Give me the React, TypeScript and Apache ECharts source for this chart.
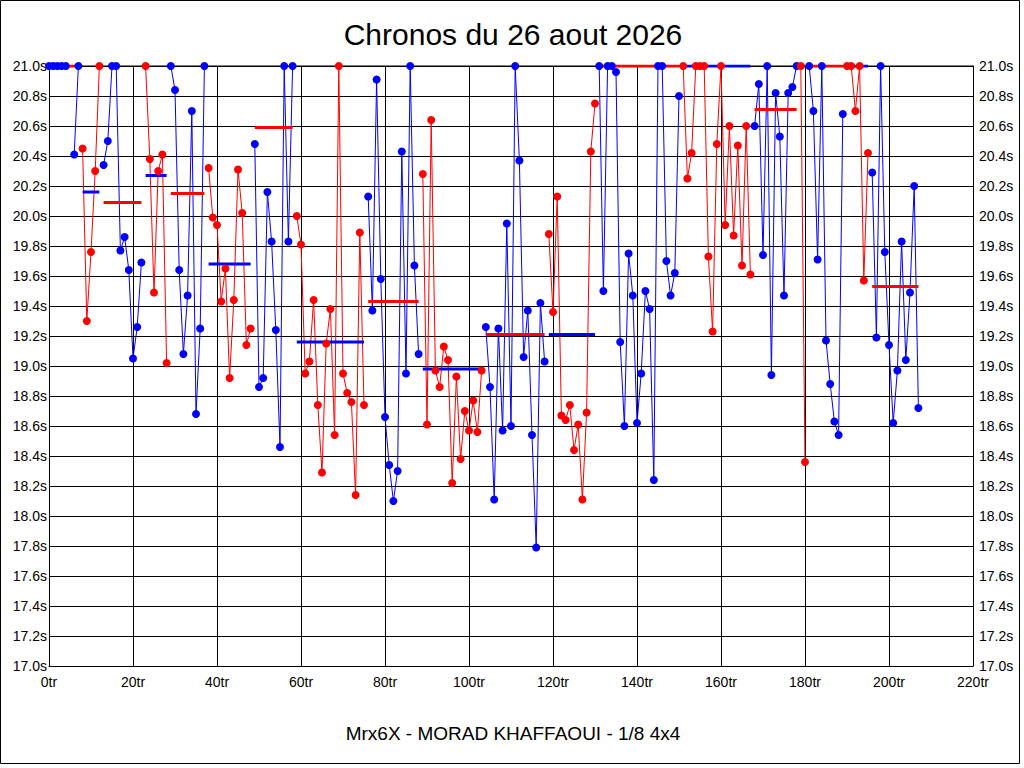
import React, { useEffect, useRef } from "react";
import * as echarts from "echarts";

// Lap times per run (seconds, values above 21.0 shown clipped at 21.0)
const segStarts = [0, 8, 13, 23, 29, 38, 49, 59, 76, 89, 104, 119, 131, 151, 168, 179, 181, 190, 196];
const seg01 = [21.0, 21.0, 21.0, 21.0, 21.0, null, 20.41, 21.0];
const seg02 = [20.45, 19.3, 19.76, 20.3, 21.0];
const seg03 = [20.34, 20.5, 21.0, 21.0, 19.77, 19.86, 19.64, 19.05, 19.26, 19.69];
const seg04 = [21.0, 20.38, 19.49, 20.3, 20.41, 19.02];
const seg05 = [21.0, 20.84, 19.64, 19.08, 19.47, 20.7, 18.68, 19.25, 21.0];
const seg06 = [20.32, 19.99, 19.94, 19.43, 19.65, 18.92, 19.44, 20.31, 20.02, 19.14, 19.25];
const seg07 = [20.48, 18.86, 18.92, 20.16, 19.83, 19.24, 18.46, 21.0, 19.83, 21.0];
const seg08 = [20.0, 19.81, 18.95, 19.03, 19.44, 18.74, 18.29, 19.15, 19.38, 18.54, 21.0, 18.95, 18.82, 18.76, 18.14, 19.89, 18.74];
const seg09 = [20.13, 19.37, 20.91, 19.58, 18.66, 18.34, 18.1, 18.3, 20.43, 18.95, 21.0, 19.67, 19.08];
const seg10 = [20.28, 18.61, 20.64, 18.97, 18.86, 19.13, 19.04, 18.22, 18.93, 18.38, 18.7, 18.57, 18.77, 18.56, 18.97];
const seg11 = [19.26, 18.86, 18.11, 19.25, 18.57, 19.95, 18.6, 21.0, 20.37, 19.06, 19.37, 18.54, 17.79, 19.42, 19.03];
const seg12 = [19.88, 19.36, 20.13, 18.67, 18.64, 18.74, 18.44, 18.61, 18.11, 18.69, 20.43, 20.75];
const seg13 = [21.0, 19.5, 21.0, 21.0, 20.96, 19.16, 18.6, 19.75, 19.47, 18.62, 18.95, 19.5, 19.38, 18.24, 21.0, 21.0, 19.7, 19.47, 19.62, 20.8];
const seg14 = [21.0, 20.25, 20.42, 21.0, 21.0, 21.0, 19.73, 19.23, 20.48, 21.0, 19.94, 20.6, 19.87, 20.47, 19.67, 20.6, 19.61];
const seg15 = [20.6, 20.88, 19.74, 21.0, 18.94, 20.82, 20.53, 19.47, 20.82, 20.86, 21.0];
const seg16 = [21.0, 18.36];
const seg17 = [21.0, 20.7, 19.71, 21.0, 19.17, 18.88, 18.63, 18.54, 20.68];
const seg18 = [21.0, 21.0, 20.7, 21.0, 19.57, 20.42];
const seg19 = [20.29, 19.19, 21.0, 19.76, 19.14, 18.62, 18.97, 19.83, 19.04, 19.49, 20.2, 18.72];
const segAverages = [21.0, 20.16, 20.09, 20.27, 20.15, 19.68, 20.59, 19.16, 19.43, 18.98, 19.21, 19.21, 21.0, 21.0, 20.71, 21.0, 21.0, 21.0, 19.53];

const segments = [seg01, seg02, seg03, seg04, seg05, seg06, seg07, seg08, seg09, seg10, seg11, seg12, seg13, seg14, seg15, seg16, seg17, seg18, seg19];

const xTicksMax = 220;
const BLUE = "#0000FF";
const RED = "#FF0000";
const FONT = "'Liberation Sans', Arial, sans-serif";

export default function App() {
  const ref = useRef<HTMLDivElement>(null);
  useEffect(() => {
    if (!ref.current) return;
    const chart = echarts.init(ref.current, null, { renderer: "svg" });
    const series: any[] = [];
    segments.forEach((vals, i) => {
      const start = segStarts[i];
      const color = i % 2 === 0 ? BLUE : RED;
      const other = i % 2 === 0 ? RED : BLUE;
      const data = vals.map((v, k) => [start + k, v === null ? null : v]);
      series.push({
        type: "line",
        data,
        showSymbol: false,
        connectNulls: false,
        lineStyle: { color, width: 1, opacity: 1 },
        itemStyle: { color },
        z: 2,
        silent: true,
      });
      series.push({
        type: "line",
        data: [
          [start, segAverages[i]],
          [start + vals.length - 1, segAverages[i]],
        ],
        showSymbol: false,
        lineStyle: { color: other, width: 3, opacity: 1 },
        z: 3,
        silent: true,
      });
      series.push({
        type: "scatter",
        data: data.filter((d) => d[1] !== null),
        symbol: "circle",
        symbolSize: 8,
        itemStyle: { color, opacity: 1 },
        z: 4,
        silent: true,
      });
    });

    const labelStyle = { color: "#000", fontFamily: FONT, fontSize: 14 };
    chart.setOption({
      animation: false,
      backgroundColor: "#fff",
      grid: { left: 49, right: 51, top: 66, bottom: 102, containLabel: false },
      xAxis: {
        type: "value",
        min: 0,
        max: xTicksMax,
        interval: 20,
        axisLine: { show: true, lineStyle: { color: "#000", width: 1 } },
        axisTick: { show: false },
        splitLine: { show: true, lineStyle: { color: "#000", width: 1 } },
        axisLabel: { ...labelStyle, margin: 9, formatter: (v: number) => `${v}tr` },
      },
      yAxis: [
        {
          type: "value",
          min: 17,
          max: 21,
          interval: 0.2,
          axisLine: { show: true, lineStyle: { color: "#000", width: 1 } },
          axisTick: { show: false },
          splitLine: { show: true, lineStyle: { color: "#000", width: 1 } },
          axisLabel: { ...labelStyle, margin: 2, formatter: (v: number) => `${v.toFixed(1)}s` },
        },
        {
          type: "value",
          position: "right",
          min: 17,
          max: 21,
          interval: 0.2,
          axisLine: { show: true, lineStyle: { color: "#000", width: 1 } },
          axisTick: { show: false },
          splitLine: { show: false },
          axisLabel: { ...labelStyle, margin: 6, formatter: (v: number) => `${v.toFixed(1)}s` },
        },
      ],
      graphic: [
        {
          type: "rect",
          shape: { x: 0.5, y: 0.5, width: 1019, height: 763 },
          style: { fill: "none", stroke: "#000", lineWidth: 1 },
          silent: true,
        },
        {
          type: "line",
          shape: { x1: 49, y1: 66, x2: 973, y2: 66 },
          style: { stroke: "#000", lineWidth: 1 },
          z: 1,
          silent: true,
        },
        {
          type: "text",
          x: 513,
          y: 34,
          style: {
            text: "Chronos du 26 aout 2026",
            fill: "#000",
            font: `30px ${FONT}`,
            textAlign: "center",
            textVerticalAlign: "middle",
          },
        },
        {
          type: "text",
          x: 513,
          y: 733,
          style: {
            text: "Mrx6X - MORAD KHAFFAOUI - 1/8 4x4",
            fill: "#000",
            font: `19px ${FONT}`,
            textAlign: "center",
            textVerticalAlign: "middle",
          },
        },
      ],
      series,
    });
    return () => chart.dispose();
  }, []);
  return (
    <div
      ref={ref}
      style={{ position: "fixed", left: 0, top: 0, width: 1024, height: 768, background: "#fff" }}
    />
  );
}
